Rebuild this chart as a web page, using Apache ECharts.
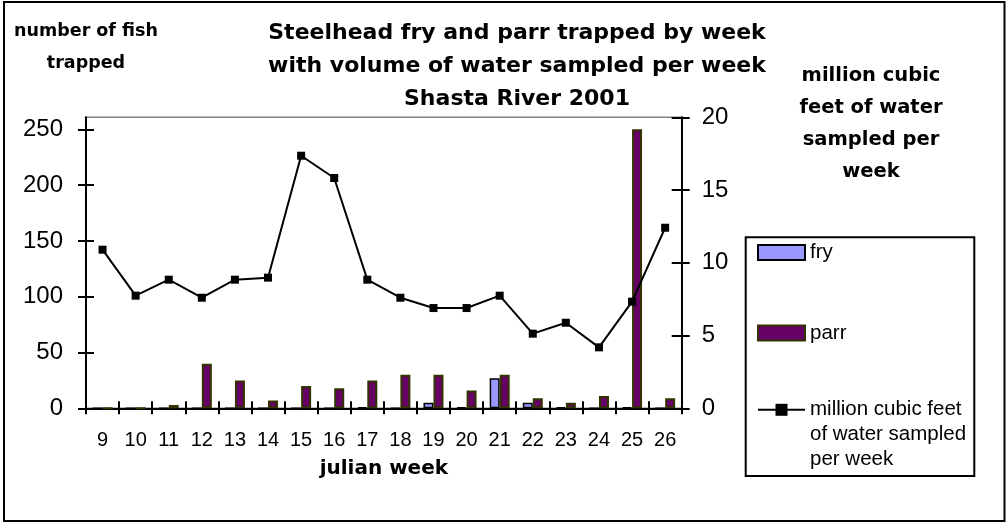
<!DOCTYPE html>
<html>
<head>
<meta charset="utf-8">
<script src="https://cdn.jsdelivr.net/npm/echarts@6/dist/echarts.min.js"></script>
<style>
html,body{margin:0;padding:0;background:#fff;}
#chart{width:1006px;height:527px;}
</style>
</head>
<body>
<div id="chart"></div>
<script>
const weeks = ['9','10','11','12','13','14','15','16','17','18','19','20','21','22','23','24','25','26'];
const fry   = [0,0,0,0,0,0,0,0,1,0,5,1,27,5,1,0,1,0];
const parr  = [0,0,3,40,25,7,20,18,25,30,30,16,30,9,5,11,250,9];
const water = [10.9,7.74,8.84,7.6,8.84,8.98,17.36,15.83,8.84,7.6,6.89,6.89,7.74,5.13,5.88,4.19,7.33,12.41];
const leftTicks = [0,50,100,150,200,250];
const rightTicks = [0,5,10,15,20];

const chart = echarts.init(document.getElementById('chart'));
const SANS = 'Liberation Sans';
const BOLD = 'DejaVu Sans';
const LEFT_MAX = 260.75;

chart.setOption({
  animation: false,
  backgroundColor: '#fff',
  title: [
    { text: 'Steelhead fry and parr trapped by week\nwith volume of water sampled per week\nShasta River 2001',
      left: 512, top: 12, textAlign: 'center',
      textStyle: { fontFamily: BOLD, fontWeight: 'bold', fontSize: 22, lineHeight: 33, color: '#000' } },
    { text: 'number of fish\ntrapped',
      left: 81, top: 10, textAlign: 'center',
      textStyle: { fontFamily: BOLD, fontWeight: 'bold', fontSize: 17.5, lineHeight: 32, color: '#000' } },
    { text: 'million cubic\nfeet of water\nsampled per\nweek',
      left: 866, top: 55, textAlign: 'center',
      textStyle: { fontFamily: BOLD, fontWeight: 'bold', fontSize: 19.5, lineHeight: 32, color: '#000' } }
  ],
  grid: { left: 86, right: 324.3, top: 117.3, bottom: 118.7, show: true, borderColor: '#808080', borderWidth: 1.5, backgroundColor: 'transparent' },
  legend: [
    { data: [{ name: 'fry', icon: 'rect' }], orient: 'vertical', left: 757, top: 240, padding: 0, itemWidth: 47, itemHeight: 15,
      textStyle: { fontFamily: SANS, fontSize: 20.5, lineHeight: 25, color: '#000' } },
    { data: [{ name: 'parr', icon: 'rect' }], orient: 'vertical', left: 757, top: 320.5, padding: 0, itemWidth: 47, itemHeight: 15,
      textStyle: { fontFamily: SANS, fontSize: 20.5, lineHeight: 25, color: '#000' } },
    { data: ['million cubic feet of water sampled per week'], orient: 'vertical', left: 757, top: 347.3, padding: 0, itemWidth: 47, itemHeight: 15,
      formatter: function () { return '\n\nmillion cubic feet\nof water sampled\nper week'; },
      textStyle: { fontFamily: SANS, fontSize: 20.5, lineHeight: 25, color: '#000' } }
  ],
  xAxis: [
    { type: 'category', data: weeks, position: 'bottom',
      axisLine: { lineStyle: { color: '#000', width: 2 } },
      axisTick: { show: true, length: 6, lineStyle: { color: '#000', width: 2 } },
      axisLabel: { fontFamily: SANS, fontSize: 20, color: '#000', margin: 22, interval: 0 },
      name: 'julian week', nameLocation: 'middle', nameGap: 50,
      nameTextStyle: { fontFamily: BOLD, fontWeight: 'bold', fontSize: 20, color: '#000' },
      splitLine: { show: false } },
    { type: 'category', data: weeks, position: 'bottom',
      axisLine: { show: false },
      axisTick: { show: true, inside: true, length: 7, lineStyle: { color: '#000', width: 2 } },
      axisLabel: { show: false }, splitLine: { show: false } }
  ],
  yAxis: [
    { type: 'value', position: 'left', min: 0, max: LEFT_MAX, interval: 50,
      axisLine: { show: true, lineStyle: { color: '#000', width: 2 } },
      axisTick: { show: true, length: 8, customValues: leftTicks, lineStyle: { color: '#000', width: 2 } },
      axisLabel: { fontFamily: SANS, fontSize: 24, color: '#000', margin: 23, customValues: leftTicks },
      splitLine: { show: false } },
    { type: 'value', position: 'right', min: 0, max: 20, interval: 5,
      axisLine: { show: true, lineStyle: { color: '#000', width: 2 } },
      axisTick: { show: true, length: 8, customValues: rightTicks, lineStyle: { color: '#000', width: 2 } },
      axisLabel: { fontFamily: SANS, fontSize: 24, color: '#000', margin: 20, customValues: rightTicks },
      splitLine: { show: false } },
    { type: 'value', position: 'left', min: 0, max: LEFT_MAX, interval: 50,
      axisLine: { show: false },
      axisTick: { show: true, inside: true, length: 8, customValues: leftTicks, lineStyle: { color: '#000', width: 2 } },
      axisLabel: { show: false }, splitLine: { show: false } },
    { type: 'value', position: 'right', min: 0, max: 20, interval: 5,
      axisLine: { show: false },
      axisTick: { show: true, inside: true, length: 10, customValues: rightTicks, lineStyle: { color: '#000', width: 2 } },
      axisLabel: { show: false }, splitLine: { show: false } }
  ],
  series: [
    { name: 'fry', type: 'bar', data: fry, xAxisIndex: 0, yAxisIndex: 0,
      barWidth: 10, barGap: '0%',
      itemStyle: { color: '#9999ff', borderColor: '#000', borderWidth: 1.5 } },
    { name: 'parr', type: 'bar', data: parr, xAxisIndex: 0, yAxisIndex: 0,
      barWidth: 10, barGap: '0%',
      itemStyle: { color: '#660066', borderColor: '#333300', borderWidth: 2 } },
    { name: 'million cubic feet of water sampled per week', type: 'line', data: water, xAxisIndex: 0, yAxisIndex: 1,
      symbol: 'rect', symbolSize: 8, showSymbol: true,
      lineStyle: { color: '#000', width: 2 }, itemStyle: { color: '#000' }, z: 3 }
  ],
  graphic: [
    { type: 'rect', shape: { x: 745.7, y: 237.3, width: 228.6, height: 238.7 },
      style: { fill: 'none', stroke: '#000', lineWidth: 2 }, z: 10, silent: true },
    { type: 'rect', shape: { x: 4, y: 2, width: 1000.5, height: 519 },
      style: { fill: 'none', stroke: '#000', lineWidth: 2 }, z: 10, silent: true }
  ]
});
</script>
</body>
</html>
